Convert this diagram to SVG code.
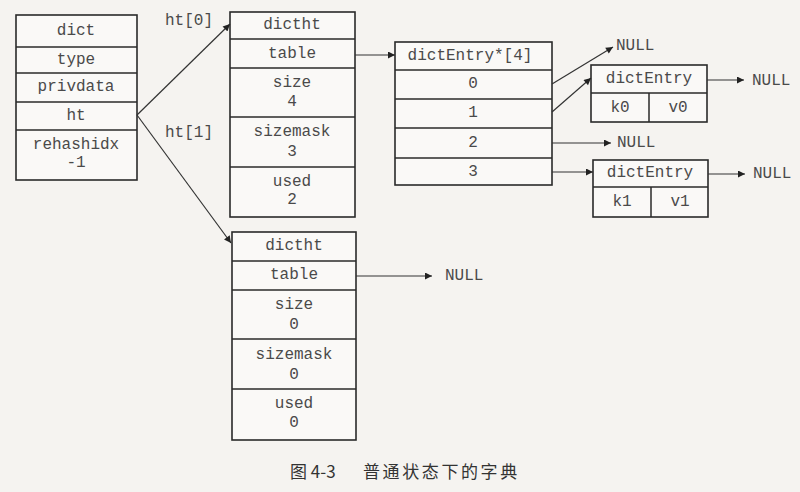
<svg xmlns="http://www.w3.org/2000/svg" width="800" height="492" viewBox="0 0 800 492">
<style>
.box{fill:#faf9f7;stroke:#2a2a2a;stroke-width:1.6}
.ln{stroke:#2a2a2a;stroke-width:1.5}
.t{font-family:"Liberation Mono","DejaVu Sans Mono",monospace;font-size:16px;fill:#4a4a4a;text-anchor:middle;dominant-baseline:central}
.tl{font-family:"Liberation Mono","DejaVu Sans Mono",monospace;font-size:16px;fill:#4a4a4a;dominant-baseline:central}
.c{stroke:#333;stroke-width:1.2;fill:none;marker-end:url(#ah)}
.cap{font-family:"Noto Sans CJK SC","Noto Sans",sans-serif;font-size:17px;fill:#333;dominant-baseline:central}
</style>
<defs>
<marker id="ah" viewBox="0 0 10 10" refX="10" refY="5" markerWidth="9" markerHeight="7" markerUnits="userSpaceOnUse" orient="auto">
<path d="M0,0 L10,5 L0,10 z" fill="#222"/>
</marker>
</defs>
<rect width="800" height="492" fill="#f5f3f0"/>

<g id="dict">
<rect class="box" x="16" y="15" width="121" height="165"/>
<line class="ln" x1="16" y1="47" x2="137" y2="47"/>
<line class="ln" x1="16" y1="73" x2="137" y2="73"/>
<line class="ln" x1="16" y1="102" x2="137" y2="102"/>
<line class="ln" x1="16" y1="130" x2="137" y2="130"/>
<text class="t" x="76" y="31">dict</text>
<text class="t" x="76" y="60">type</text>
<text class="t" x="76" y="87">privdata</text>
<text class="t" x="76" y="116">ht</text>
<text class="t" x="76" y="145">rehashidx</text>
<text class="t" x="76" y="163">-1</text>
</g>

<g id="dictht0">
<rect class="box" x="230" y="12" width="125" height="205"/>
<line class="ln" x1="230" y1="39" x2="355" y2="39"/>
<line class="ln" x1="230" y1="68" x2="355" y2="68"/>
<line class="ln" x1="230" y1="117" x2="355" y2="117"/>
<line class="ln" x1="230" y1="167" x2="355" y2="167"/>
<text class="t" x="292" y="25">dictht</text>
<text class="t" x="292" y="54">table</text>
<text class="t" x="292" y="83">size</text>
<text class="t" x="292" y="102">4</text>
<text class="t" x="292" y="132">sizemask</text>
<text class="t" x="292" y="152">3</text>
<text class="t" x="292" y="182">used</text>
<text class="t" x="292" y="200">2</text>
</g>

<g id="dictht1">
<rect class="box" x="232" y="232" width="124" height="208"/>
<line class="ln" x1="232" y1="261" x2="356" y2="261"/>
<line class="ln" x1="232" y1="290" x2="356" y2="290"/>
<line class="ln" x1="232" y1="339" x2="356" y2="339"/>
<line class="ln" x1="232" y1="389" x2="356" y2="389"/>
<text class="t" x="294" y="246">dictht</text>
<text class="t" x="294" y="275">table</text>
<text class="t" x="294" y="305">size</text>
<text class="t" x="294" y="325">0</text>
<text class="t" x="294" y="355">sizemask</text>
<text class="t" x="294" y="375">0</text>
<text class="t" x="294" y="404">used</text>
<text class="t" x="294" y="423">0</text>
</g>

<g id="table">
<rect class="box" x="395" y="42" width="157" height="143"/>
<line class="ln" x1="395" y1="70" x2="552" y2="70"/>
<line class="ln" x1="395" y1="99" x2="552" y2="99"/>
<line class="ln" x1="395" y1="128" x2="552" y2="128"/>
<line class="ln" x1="395" y1="158" x2="552" y2="158"/>
<text class="t" x="470" y="56">dictEntry*[4]</text>
<text class="t" x="473" y="84">0</text>
<text class="t" x="473" y="113">1</text>
<text class="t" x="473" y="143">2</text>
<text class="t" x="473" y="172">3</text>
</g>

<g id="entry0">
<rect class="box" x="591" y="65" width="116" height="57"/>
<line class="ln" x1="591" y1="93" x2="707" y2="93"/>
<line class="ln" x1="649" y1="93" x2="649" y2="122"/>
<text class="t" x="649" y="79">dictEntry</text>
<text class="t" x="620" y="108">k0</text>
<text class="t" x="678" y="108">v0</text>
</g>

<g id="entry1">
<rect class="box" x="593" y="160" width="115" height="57"/>
<line class="ln" x1="593" y1="187" x2="708" y2="187"/>
<line class="ln" x1="651" y1="187" x2="651" y2="217"/>
<text class="t" x="650" y="173">dictEntry</text>
<text class="t" x="622" y="202">k1</text>
<text class="t" x="680" y="202">v1</text>
</g>

<g id="labels">
<text class="tl" x="165" y="21">ht[0]</text>
<text class="tl" x="165" y="133">ht[1]</text>
<text class="tl" x="616" y="46">NULL</text>
<text class="tl" x="752" y="81">NULL</text>
<text class="tl" x="617" y="143">NULL</text>
<text class="tl" x="753" y="174">NULL</text>
<text class="tl" x="445" y="276">NULL</text>
</g>

<g id="connectors">
<line class="c" x1="137" y1="115" x2="230" y2="24"/>
<line class="c" x1="137" y1="115" x2="231" y2="243"/>
<line class="c" x1="355" y1="55" x2="395" y2="55"/>
<line class="c" x1="356" y1="276" x2="432" y2="276"/>
<line class="c" x1="552" y1="84" x2="613" y2="47"/>
<line class="c" x1="552" y1="112" x2="591" y2="78"/>
<line class="c" x1="552" y1="143" x2="611" y2="143"/>
<line class="c" x1="552" y1="172" x2="593" y2="172"/>
<line class="c" x1="707" y1="80" x2="744" y2="80"/>
<line class="c" x1="708" y1="174" x2="745" y2="174"/>
</g>

<g id="caption">
<text class="cap" x="290" y="470">图 4-3</text>
<text class="cap" x="363" y="470" letter-spacing="2.6">普通状态下的字典</text>
</g>
</svg>
